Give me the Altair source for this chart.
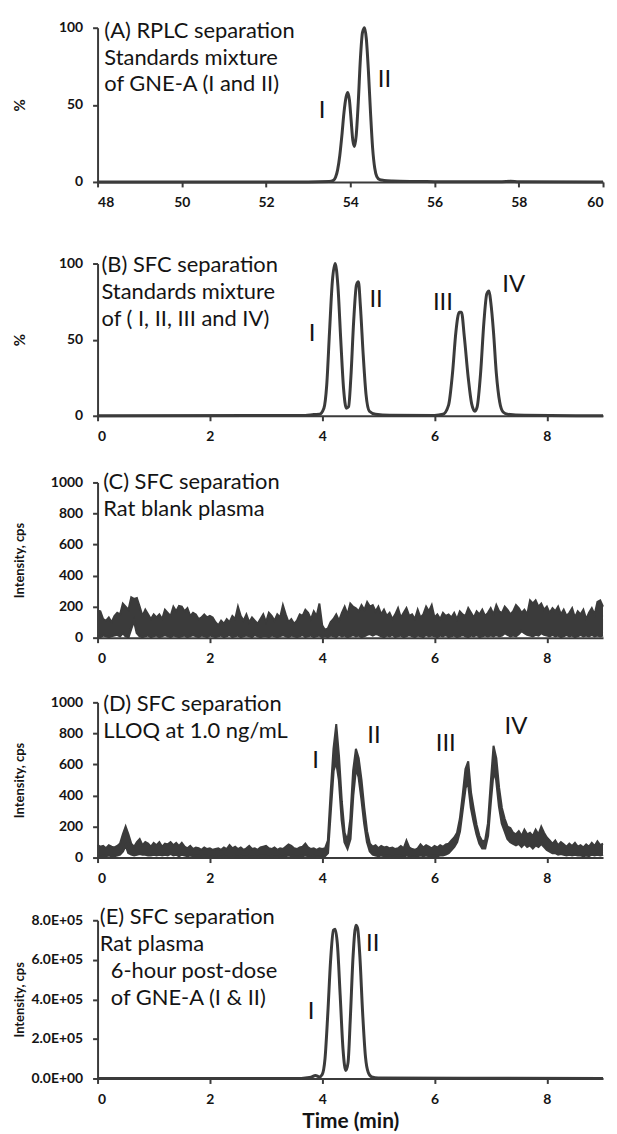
import altair as alt
import numpy as np
import pandas as pd

FONT = "Lato"
INK = "#3b3b3b"
TXT = "#141414"
W = 508

# ---------------- Panel A : RPLC, % vs time (48-60 min) ----------------
a_time = [48.0, 53.0, 53.5, 53.6, 53.65, 53.7, 53.75, 53.8, 53.85, 53.9, 53.94, 53.98,
          54.02, 54.06, 54.1, 54.14, 54.19, 54.24, 54.29, 54.34, 54.38, 54.43, 54.48,
          54.53, 54.58, 54.63, 54.7, 54.8, 55.0, 55.5, 56.0, 57.6, 57.8, 58.0, 60.0]
a_pct = [0, 0, 0.3, 1.0, 3, 8, 17, 30, 45, 55, 58, 53,
         40, 27, 23, 30, 52, 80, 97, 100, 93, 72, 45,
         22, 9, 3.5, 1.5, 1, 0.6, 0.3, 0.2, 0.2, 0.4, 0.1, 0]

# ---------------- Panel B : SFC standards, % ----------------
b_time = [0, 3.7, 3.85, 3.95, 4.03, 4.08, 4.13, 4.18, 4.23, 4.28, 4.33, 4.38, 4.43, 4.47,
          4.51, 4.56, 4.61, 4.645, 4.68, 4.73, 4.78, 4.84, 4.95, 5.2, 6.0, 6.15, 6.25,
          6.32, 6.38, 6.44, 6.48, 6.53, 6.6, 6.66, 6.72, 6.76, 6.82, 6.88, 6.93, 6.97,
          7.0, 7.05, 7.1, 7.16, 7.22, 7.3, 7.6, 9.0]
b_pct = [0, 0.2, 0.8, 1, 5, 20, 55, 88, 100, 85, 50, 18, 5, 6,
         25, 62, 86, 88, 72, 40, 14, 3, 1, 0.3, 0.2, 1, 7,
         28, 55, 68, 68, 52, 25, 8, 3, 6, 28, 62, 80, 82,
         75, 55, 28, 9, 2.5, 1, 0.3, 0]

# ---------------- Panel C : rat blank plasma (noise band, 0.05 min sampling) ----------------
c_upper = [
    175, 170, 120, 110, 130, 100, 140, 160, 150, 220, 200, 180, 260, 250, 255, 200, 140, 180, 150, 120,
    150, 130, 150, 120, 180, 160, 140, 200, 170, 205, 200, 170, 190, 140, 160, 150, 120, 130, 150, 130,
    140, 130, 100, 80, 110, 90, 120, 100, 140, 120, 200, 140, 110, 150, 100, 130, 110, 90, 120, 150,
    100, 160, 140, 110, 150, 130, 210, 150, 100, 120, 90, 110, 150, 140, 180, 160, 120, 170, 140, 220,
    80, 50, 60, 100, 120, 150, 110, 160, 200, 150, 220, 200, 190, 170, 210, 180, 230, 200, 210, 170,
    200, 150, 180, 140, 160, 120, 150, 190, 130, 160, 190, 140, 150, 120, 180, 130, 150, 200, 170, 210,
    130, 150, 120, 160, 140, 150, 130, 160, 120, 170, 150, 140, 190, 160, 130, 170, 150, 180, 140, 160,
    190, 150, 210, 170, 160, 200, 180, 150, 170, 210, 190, 160, 180, 150, 240, 220, 240, 200, 220, 180,
    200, 160, 190, 170, 200, 150, 180, 140, 160, 190, 130, 170, 150, 180, 120, 160, 190, 150, 230, 240,
    200]
c_lower = [
    10, 5, 15, 10, 5, 10, 15, 20, 10, 30, 10, 5, 60, 110, 30, 10, 5, 10, 15, 5,
    10, 15, 5, 10, 20, 10, 5, 15, 10, 5, 10, 15, 5, 10, 20, 10, 5, 15, 10, 5,
    15, 10, 5, 10, 15, 5, 10, 20, 5, 10, 15, 5, 10, 15, 10, 5, 20, 10, 5, 10,
    10, 5, 15, 10, 5, 10, 20, 10, 5, 15, 10, 5, 10, 20, 5, 10, 15, 5, 10, 15,
    5, 10, 5, 15, 10, 5, 20, 10, 15, 5, 10, 20, 10, 15, 5, 10, 20, 25, 15, 25,
    20, 10, 5, 15, 10, 20, 5, 10, 15, 5, 10, 20, 10, 5, 15, 10, 5, 20, 10, 15,
    10, 5, 15, 10, 20, 5, 10, 15, 5, 10, 20, 10, 5, 15, 10, 20, 5, 10, 15, 10,
    15, 10, 20, 10, 15, 30, 20, 10, 15, 10, 25, 45, 30, 20, 15, 10, 20, 15, 30, 20,
    15, 10, 20, 10, 15, 5, 10, 20, 10, 15, 5, 10, 20, 10, 15, 10, 20, 10, 15, 10,
    15]

# ---------------- Panel D : LLOQ 1.0 ng/mL (noisy trace, 0.05 min sampling) ----------------
d_upper = [
    80, 70, 75, 60, 80, 70, 65, 75, 90, 150, 200, 150, 90, 70, 100, 120, 80, 100, 90, 70,
    95, 80, 100, 70, 90, 85, 100, 80, 95, 75, 95, 70, 60, 75, 55, 65, 60, 50, 65, 55,
    60, 50, 55, 60, 50, 65, 55, 80, 60, 70, 55, 65, 50, 60, 75, 55, 60, 50, 65, 70,
    75, 60, 55, 65, 50, 60, 55, 70, 85, 75, 60, 55, 65, 70, 90, 65, 55, 60, 50, 60,
    55, 60, 110, 420, 700, 860, 650, 360, 160, 110, 250, 560, 700, 640, 500, 320, 170, 90, 70, 80,
    60, 75, 65, 70, 60, 65, 55, 60, 75, 60, 110, 65, 55, 50, 60, 85, 65, 80, 70, 60,
    75, 65, 80, 70, 85, 90, 110, 130, 160, 250, 400, 570, 620, 420, 310, 210, 140, 105, 110, 220,
    480, 720, 640, 450, 320, 250, 200, 190, 160, 150, 170, 140, 180, 150, 160, 140, 180, 150, 200, 160,
    130, 110, 90, 110, 80, 100, 85, 70, 90, 75, 95, 70, 80, 65, 85, 70, 95, 75, 105, 80,
    90]
d_lower = [
    10, 5, 10, 10, 15, 10, 10, 15, 20, 40, 80, 30, 20, 15, 20, 25, 20, 20, 15, 15,
    20, 15, 20, 15, 20, 15, 25, 15, 20, 10, 20, 15, 10, 15, 10, 10, 10, 5, 10, 10,
    5, 5, 10, 5, 5, 10, 5, 10, 5, 10, 5, 10, 5, 5, 10, 5, 10, 5, 10, 10,
    10, 5, 10, 5, 5, 10, 5, 10, 15, 10, 10, 5, 10, 10, 15, 10, 5, 10, 5, 5,
    5, 10, 30, 300, 560, 620, 500, 240, 100, 60, 120, 400, 580, 520, 380, 220, 100, 40, 20, 15,
    10, 15, 10, 10, 10, 5, 10, 10, 10, 5, 15, 10, 5, 5, 10, 15, 10, 15, 10, 10,
    10, 10, 15, 15, 20, 30, 50, 70, 100, 170, 310, 450, 480, 320, 230, 150, 90, 60, 60, 140,
    360, 560, 500, 330, 220, 170, 120, 100, 90, 80, 90, 70, 90, 70, 80, 60, 80, 70, 90, 70,
    50, 40, 30, 30, 20, 25, 20, 15, 20, 15, 20, 15, 15, 10, 15, 10, 20, 15, 20, 15,
    20]
grid_time = np.round(np.arange(len(c_upper)) * 0.05, 2)

# ---------------- Panel E : rat plasma 6 h post-dose ----------------
e_time = [0, 3.6, 3.7, 3.8, 3.88, 3.95, 4.0, 4.05, 4.1, 4.15, 4.2, 4.23, 4.27, 4.32,
          4.37, 4.42, 4.46, 4.5, 4.55, 4.6, 4.63, 4.67, 4.72, 4.77, 4.82, 4.88, 5.0, 9.0]
e_val = [0, 0, 3e3, 6e3, 15e3, 8e3, 20e3, 100e3, 330e3, 600e3, 750e3, 755e3, 680e3, 420e3,
         150e3, 40e3, 80e3, 300e3, 620e3, 775e3, 760e3, 620e3, 330e3, 110e3, 30e3, 8e3, 2e3, 0]

# ---------------- peak labels (time, value, text) ----------------
a_lab = {"t": [53.33, 54.81], "v": [46, 66], "s": ["I", "II"]}
b_lab = {"t": [3.82, 4.96, 6.15, 7.41], "v": [54, 76, 74, 86], "s": ["I", "II", "III", "IV"]}
d_lab = {"t": [3.88, 4.92, 6.2, 7.45], "v": [622, 782, 730, 840], "s": ["I", "II", "III", "IV"]}
e_lab = {"t": [3.8, 4.9], "v": [337e3, 680e3], "s": ["I", "II"]}

# ---------------- panel descriptions ----------------
a_note = ["(A) RPLC separation", "Standards mixture", "of GNE-A (I and II)"]
b_note = ["(B) SFC separation", "Standards mixture", "of ( I, II, III and IV)"]
c_note = ["(C) SFC separation", "Rat blank plasma"]
d_note = ["(D) SFC separation", "LLOQ at 1.0 ng/mL"]
e_note = ["(E) SFC separation", "Rat plasma"]
e_note_indented = ["6-hour post-dose", "of GNE-A (I & II)"]

AX = dict(grid=False, labelFont=FONT, labelFontWeight="bold", labelFontSize=14,
          labelColor=TXT, domainColor=INK, domainWidth=2, tickColor=INK, tickWidth=2,
          tickSize=5, titleFont=FONT, titleFontWeight="bold", titleColor=TXT)
LINE_H = 27
NOTE_SIZE = 22


def make_panel(h, xdom, xvals, ydom, yvals, ytitle, ytitle_size, traces, labels, notes,
               xtitle=None, ylabel_expr=None, yformat=None):
    xa = dict(AX, values=xvals, labelPadding=9, title=xtitle)
    if xtitle:
        xa.update(titleFontSize=21, titlePadding=4)
    ya = dict(AX, values=yvals, labelPadding=10, title=ytitle, titleFontSize=ytitle_size,
              titleAngle=270, titleX=-78, titleY=h / 2, titleAlign="center",
              titleBaseline="middle")
    if ylabel_expr:
        ya["labelExpr"] = ylabel_expr
    if yformat:
        ya["format"] = yformat
    X = alt.X("t:Q", scale=alt.Scale(domain=xdom, nice=False, zero=False), axis=alt.Axis(**xa))
    Y = alt.Y("v:Q", scale=alt.Scale(domain=ydom, nice=False), axis=alt.Axis(**ya))
    Ylo = alt.Y("lo:Q", scale=alt.Scale(domain=ydom, nice=False), axis=alt.Axis(**ya))

    layers = []
    for kind, df in traces:
        if kind == "smooth":
            layers.append(alt.Chart(df).mark_line(color=INK, strokeWidth=3,
                                                  interpolate="monotone").encode(x=X, y=Y))
        else:  # noisy band between lower and upper envelopes
            layers.append(alt.Chart(df).mark_area(color=INK, opacity=1).encode(
                x=X, y=Y, y2=alt.Y2("lo:Q")))
            layers.append(alt.Chart(df).mark_line(color=INK, strokeWidth=2).encode(x=X, y=Y))
            layers.append(alt.Chart(df).mark_line(color=INK, strokeWidth=2.5).encode(x=X, y=Ylo))
    if labels is not None:
        layers.append(alt.Chart(pd.DataFrame(labels)).mark_text(
            font=FONT, fontSize=24, color=TXT, align="center", baseline="middle").encode(
            x=X, y=Y, text="s:N"))
    for lines, (nt, nv), ndy, ndx in notes:
        ndf = pd.DataFrame({"t": [nt], "v": [nv], "s": ["\n".join(lines)]})
        layers.append(alt.Chart(ndf).mark_text(
            font=FONT, fontSize=NOTE_SIZE, color=TXT, align="left", baseline="top",
            lineBreak="\n", lineHeight=LINE_H, dy=ndy, dx=ndx).encode(x=X, y=Y, text="s:N"))
    return alt.layer(*layers).properties(width=W, height=h)


sfc_x = [0, 2, 4, 6, 8]
cps_y = [0, 200, 400, 600, 800, 1000]

pA = make_panel(155, [48, 60], [48, 50, 52, 54, 56, 58, 60], [0, 100], [0, 50, 100], "%", 15,
                [("smooth", pd.DataFrame({"t": a_time, "v": a_pct}))], a_lab,
                [(a_note, (48.16, 100), -7, 0)])
pB = make_panel(153, [0, 9], sfc_x, [0, 100], [0, 50, 100], "%", 15,
                [("smooth", pd.DataFrame({"t": b_time, "v": b_pct}))], b_lab,
                [(b_note, (0.07, 100), -8, 0)])
pC = make_panel(156, [0, 9], sfc_x, [0, 1000], cps_y, "Intensity, cps", 13,
                [("band", pd.DataFrame({"t": grid_time, "v": c_upper, "lo": c_lower}))], None,
                [(c_note, (0.1, 1000), -10, 0)], yformat="d")
pD = make_panel(156, [0, 9], sfc_x, [0, 1000], cps_y, "Intensity, cps", 13,
                [("band", pd.DataFrame({"t": grid_time, "v": d_upper, "lo": d_lower}))], d_lab,
                [(d_note, (0.1, 1000), -8, 0)], yformat="d")
pE = make_panel(159, [0, 9], sfc_x, [0, 800000], [0, 200000, 400000, 600000, 800000],
                "Intensity, cps", 13,
                [("smooth", pd.DataFrame({"t": e_time, "v": e_val}))], e_lab,
                [(e_note, (0.04, 800000), -13, 0),
                 (e_note_indented, (0.04, 800000), -13 + 2 * LINE_H, 11)],
                xtitle="Time (min)",
                ylabel_expr="replace(format(datum.value, '.1e'), 'e+', 'E+0')")

bcd = alt.vconcat(pB, pC, pD, spacing=28)
top = alt.vconcat(pA, bcd, spacing=45)
chart = alt.vconcat(top, pE, spacing=21).properties(
    padding={"left": 5, "top": 9, "right": 0, "bottom": 0}
).configure_view(stroke=None)

chart.save("out.html", embed_options={"renderer": "svg", "actions": False})
